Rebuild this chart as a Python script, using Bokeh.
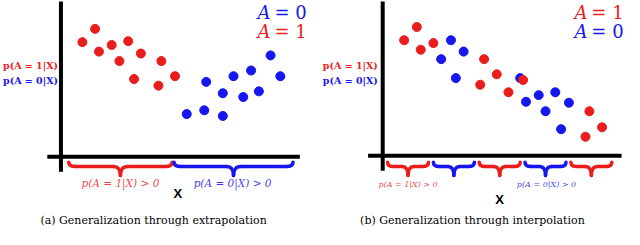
from bokeh.plotting import figure
from bokeh.models import Range1d
from bokeh.embed import file_html
from bokeh.resources import INLINE
from bokeh.core.properties import value

RED = "#ea1d1d"
BLUE = "#1616ee"

# ---------------- data (image pixel coordinates) -------------
a_red_x = [84, 97, 101, 114, 122, 131, 137, 144, 162, 165, 179]
a_red_y = [46, 32, 56, 49, 66, 45, 85, 58, 92, 66, 82]
a_blue_x = [191, 209, 211, 228, 228, 239, 249, 257, 265, 277, 287]
a_blue_y = [122, 118, 88, 100, 124, 82, 104, 76, 98, 60, 82]

b_red_x = [414, 427, 431, 444, 496, 492, 509, 521, 536, 604, 600, 617]
b_red_y = [44, 30, 54, 47, 64, 91, 80, 99, 86, 119, 146, 136]
b_blue_x = [462, 452, 475, 467, 533, 539, 552, 559, 569, 583, 575]
b_blue_y = [44, 64, 56, 84, 84, 109, 102, 119, 99, 110, 138]

a_brace_x0 = [70, 178]
a_brace_x1 = [176, 300]
a_brace_col = [RED, BLUE]
b_brace_x0 = [397, 444, 491, 538, 585]
b_brace_x1 = [439, 486, 533, 580, 627]
b_brace_col = [RED, BLUE, RED, BLUE, RED]

a_brace_labels = ["p(A = 1|X) > 0", "p(A = 0|X) > 0"]
b_brace_labels = ["p(A = 1|X) > 0", "p(A = 0|X) > 0"]
captions = ["(a) Generalization through extrapolation", "(b) Generalization through interpolation"]
left_labels = ["p(A = 1|X)", "p(A = 0|X)"]

p = figure(width=624, height=229, output_backend="svg", toolbar_location=None,
           x_range=Range1d(0, 640), y_range=Range1d(244, 2), min_border=0)
p.axis.visible = False
p.grid.visible = False
p.outline_line_color = None
p.background_fill_color = "white"

SERIF = value("DejaVu Serif")

# axes
p.segment(x0=[62, 48, 392, 377], y0=[3, 167, 3, 166], x1=[62, 307, 392, 637], y1=[183, 167, 182, 166],
          line_color="black", line_width=4)

# points
p.scatter(a_red_x, a_red_y, size=9, color=RED)
p.scatter(a_blue_x, a_blue_y, size=9, color=BLUE)
p.scatter(b_blue_x, b_blue_y, size=9, color=BLUE)
p.scatter(b_red_x, b_red_y, size=9, color=RED)


def braces(x0s, x1s, cols, r, top=173, mid=177.5, bot=187):
    for x0, x1, c in zip(x0s, x1s, cols):
        xc = (x0 + x1) / 2
        p.quadratic(x0=[x0, xc - r, x1, xc + r], y0=[top, mid, top, mid],
                    x1=[x0 + r, xc, x1 - r, xc], y1=[mid, bot, mid, bot],
                    cx=[x0, xc, x1, xc], cy=[mid, mid, mid, mid],
                    line_color=c, line_width=3.5, line_cap="round")
        p.segment(x0=[x0 + r, xc + r], y0=[mid, mid], x1=[xc - r, x1 - r], y1=[mid, mid],
                  line_color=c, line_width=3.5, line_cap="round")


braces(a_brace_x0, a_brace_x1, a_brace_col, 7)
braces(b_brace_x0, b_brace_x1, b_brace_col, 6)

# brace labels
p.text(x=[123, 238], y=[195, 195], text=a_brace_labels, text_color=[RED, BLUE],
       text_font=SERIF, text_font_style="italic", text_font_size="10.5px",
       text_align="center", text_baseline="middle", text_alpha=0.85)
p.text(x=[418, 560], y=[196, 196], text=b_brace_labels, text_color=[RED, BLUE],
       text_font=SERIF, text_font_style="italic", text_font_size="8px",
       text_align="center", text_baseline="middle", text_alpha=0.85)

# X labels
p.text(x=[182, 512], y=[206, 212], text=["X", "X"], text_color="black",
       text_font=value("Liberation Sans"), text_font_style="bold", text_font_size="13px",
       text_align="center", text_baseline="middle")

# left labels
p.text(x=[59, 59, 387, 387], y=[71, 87, 71, 87], text=left_labels + left_labels,
       text_color=[RED, BLUE, RED, BLUE], text_font=SERIF, text_font_style="bold",
       text_font_size="9.5px", text_align="right", text_baseline="middle")

# legends: italic "A" + upright "= n"
p.text(x=[277, 277, 602, 602], y=[15, 35, 15, 35], text=["A", "A", "A", "A"],
       text_color=[BLUE, RED, RED, BLUE], text_font=SERIF, text_font_style="italic",
       text_font_size="18px", text_align="right", text_baseline="middle")
p.text(x=[281, 281, 606, 606], y=[15, 35, 15, 35], text=["= 0", "= 1", "= 1", "= 0"],
       text_color=[BLUE, RED, RED, BLUE], text_font=SERIF,
       text_font_size="18px", text_align="left", text_baseline="middle")

# captions
p.text(x=[157, 484], y=[235, 235], text=captions, text_color="black", text_font=SERIF,
       text_font_size="11px", text_align="center", text_baseline="middle")

open("out.html", "w").write(file_html(p, INLINE))
